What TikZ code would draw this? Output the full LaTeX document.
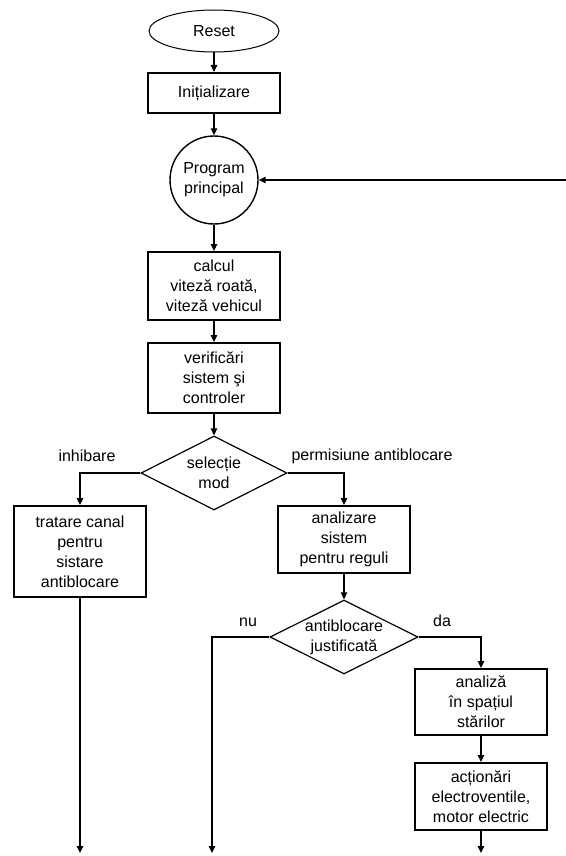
\documentclass[tikz,border=0pt]{standalone}
\usepackage{fontspec}
\setmainfont{Liberation Sans}
\usetikzlibrary{shapes.geometric,arrows.meta}
\tikzset{
  text8/.style={font=\fontsize{8}{10}\selectfont, align=center},
  bloc/.style={draw, line width=1pt, text8, inner sep=0pt, minimum width=66pt},
  start/.style={draw, ellipse, line width=0.5pt, text8, minimum width=65pt, minimum height=21pt, inner sep=0pt},
  cerc/.style={draw, circle, line width=0.7pt, text8, minimum size=44pt, inner sep=0pt},
  decizie/.style={draw, diamond, line width=0.6pt, inner sep=0pt, minimum width=73pt, minimum height=37pt},
  eticheta/.style={text8, inner sep=0pt},
  sageata/.style={line width=0.6pt, -{Triangle[length=3.5pt,width=3.2pt]}}
}
\begin{document}
\begin{tikzpicture}[x=0.5pt, y=-0.5pt]
            \useasboundingbox (0,0) rectangle (566,856);
            \def\xm{214}
            \def\xl{80}
            \def\xr{344}
            \def\xs{481}
            \def\xn{212}
            \def\yjos{853}

            \node[start] (reset) at (\xm, 31) {Reset};
            \node[bloc, minimum height=20pt] (init) at (\xm, 93) {Inițializare};
            \node[cerc] (prog) at (\xm, 180) {Program\\principal};
            \node[bloc, minimum height=34pt] (calc) at (\xm, 286) {calcul\\viteză roată,\\viteză vehicul};
            \node[bloc, minimum height=35pt] (verif) at (\xm, 378) {verificări\\sistem şi\\controler};
            \node[decizie, label={[text8]center:selecție\\mod}] (sel) at (\xm, 473) {};
            \node[bloc, minimum height=45.5pt] (trat) at (\xl, 551.5) {tratare canal\\pentru\\sistare\\antiblocare};
            \node[bloc, minimum height=33.5pt] (anal) at (\xr, 539.5) {analizare\\sistem\\pentru reguli};
            \node[decizie, minimum width=74pt, label={[text8]center:antiblocare\\justificată}] (just) at (\xr, 637) {};
            \node[bloc, minimum height=33pt] (spat) at (\xs, 702) {analiză\\în spațiul\\stărilor};
            \node[bloc, minimum height=33.5pt] (act) at (\xs, 796.5) {acționări\\electroventile,\\motor electric};

            \node[eticheta] (inhib) at (87, 456) {inhibare};
            \node[eticheta] (perm) at (372, 456) {permisiune antiblocare};
            \node[eticheta] (nu) at (248, 622) {nu};
            \node[eticheta] (da) at (442, 621) {da};

            \coordinate (retur) at (566, 180);
            \coordinate (jos1) at (\xl, \yjos);
            \coordinate (jos2) at (\xn, \yjos);
            \coordinate (jos3) at (\xs, \yjos);

            \draw[sageata] (reset) -- (init);
            \draw[sageata] (init) -- (prog);
            \draw[sageata] (retur) -- (prog);
            \draw[sageata] (prog) -- (calc);
            \draw[sageata] (calc) -- (verif);
            \draw[sageata] (verif) -- (sel);
            \draw[sageata] (sel.west) -| (trat);
            \draw[sageata] (sel.east) -| (anal);
            \draw[sageata] (anal) -- (just);
            \draw[sageata] (just.west) -| (jos2);
            \draw[sageata] (just.east) -| (spat);
            \draw[sageata] (spat) -- (act);
            \draw[sageata] (trat) -- (jos1);
            \draw[sageata] (act) -- (jos3);
        \end{tikzpicture}
\end{document}
